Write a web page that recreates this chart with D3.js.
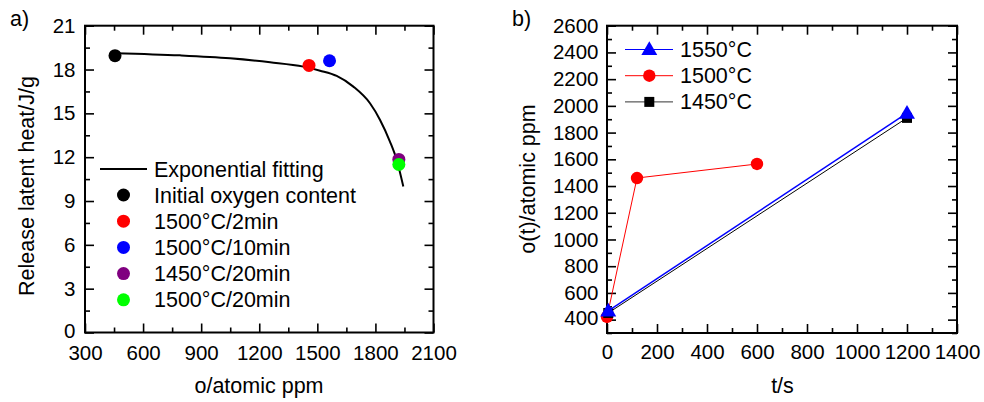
<!DOCTYPE html>
<html><head><meta charset="utf-8">
<script src="https://cdn.jsdelivr.net/npm/d3@7"></script>
<style>body{margin:0;background:#fff}svg{display:block}text{font-family:"Liberation Sans",Arial,sans-serif}</style>
</head><body>
<svg id="c" width="984" height="402"></svg>
<script>
// Panel a) data
const aXTicks = [300, 600, 900, 1200, 1500, 1800, 2100];
const aYTicks = [0, 3, 6, 9, 12, 15, 18, 21];
const fitX = [455, 790, 1049, 1256, 1428, 1514, 1600, 1686, 1772, 1824, 1875, 1910, 1944];
const fitY = [19.12, 18.97, 18.77, 18.5, 18.2, 17.92, 17.56, 16.83, 15.69, 14.55, 13.07, 11.81, 10.0];
const pointLabels = ["Initial oxygen content", "1500°C/2min", "1500°C/10min", "1450°C/20min", "1500°C/20min"];
const pointX = [455, 1457, 1563, 1921, 1921];
const pointY = [18.95, 18.28, 18.6, 11.85, 11.5];
const pointColors = ["#000000", "#ff0000", "#0000ff", "#800080", "#00ff00"];

// Panel b) data
const bXTicks = [0, 200, 400, 600, 800, 1000, 1200, 1400];
const bYTicks = [400, 600, 800, 1000, 1200, 1400, 1600, 1800, 2000, 2200, 2400, 2600];
const seriesNames = ["1550°C", "1500°C", "1450°C"];
const t1550 = [5, 1200], o1550 = [465, 1945];
const t1500 = [0, 120, 600], o1500 = [420, 1460, 1565];
const t1450 = [5, 1200], o1450 = [450, 1910];

const svg = d3.select("#c");
const TICKFONT = 20.5, LABFONT = 21.5;

function frame(x, y, xt, xMinor, yt, yMinor, padX, padY) {
  const [x0, x1] = x.range(), [y0, y1] = y.range();
  const g = svg.append("g");
  const mk = (axis, tr) => {
    const a = g.append("g").attr("transform", tr).call(axis);
    a.selectAll("text").attr("font-size", TICKFONT).attr("fill", "#000");
    a.selectAll("line").attr("stroke", "#000").attr("stroke-width", 1.6);
    a.select(".domain").remove();
    return a;
  };
  mk(d3.axisBottom(x).tickValues(xt).tickSize(-9).tickSizeOuter(0).tickPadding(padX).tickFormat(d3.format("d")), `translate(0,${y0})`);
  mk(d3.axisTop(x).tickValues(xt).tickSize(-9).tickSizeOuter(0).tickFormat(""), `translate(0,${y1})`);
  const left = mk(d3.axisLeft(y).tickValues(yt).tickSize(-9).tickSizeOuter(0).tickPadding(padY).tickFormat(d3.format("d")), `translate(${x0},0)`);
  // lift the lowest y label slightly so it clears the first x label
  left.selectAll(".tick text").filter((d, i) => i === 0).attr("dy", "0.22em");
  mk(d3.axisRight(y).tickValues(yt).tickSize(-9).tickSizeOuter(0).tickFormat(""), `translate(${x1},0)`);
  mk(d3.axisBottom(x).tickValues(xMinor).tickSize(-5).tickSizeOuter(0).tickFormat(""), `translate(0,${y0})`);
  mk(d3.axisTop(x).tickValues(xMinor).tickSize(-5).tickSizeOuter(0).tickFormat(""), `translate(0,${y1})`);
  mk(d3.axisLeft(y).tickValues(yMinor).tickSize(-5).tickSizeOuter(0).tickFormat(""), `translate(${x0},0)`);
  mk(d3.axisRight(y).tickValues(yMinor).tickSize(-5).tickSizeOuter(0).tickFormat(""), `translate(${x1},0)`);
  g.append("rect").attr("x", x0).attr("y", y1).attr("width", x1 - x0).attr("height", y0 - y1)
    .attr("fill", "none").attr("stroke", "#000").attr("stroke-width", 2);
}

// ---------- Panel a ----------
const xa = d3.scaleLinear().domain([300, 2100]).range([85, 433.5]);
const ya = d3.scaleLinear().domain([0, 21]).range([332.5, 25.7]);
const aXMinor = d3.range(450, 2100, 300);
const aYMinor = d3.range(1.5, 21, 3);
frame(xa, ya, aXTicks, aXMinor, aYTicks, aYMinor, 13, 9.5);

svg.append("path").datum(fitX.map((v, i) => [v, fitY[i]]))
  .attr("d", d3.line().x(d => xa(d[0])).y(d => ya(d[1])).curve(d3.curveMonotoneX))
  .attr("fill", "none").attr("stroke", "#000").attr("stroke-width", 2);

pointX.forEach((v, i) => {
  svg.append("circle").attr("cx", xa(v)).attr("cy", ya(pointY[i])).attr("r", 6.5).attr("fill", pointColors[i]);
});

const lgA = svg.append("g").attr("font-size", LABFONT);
lgA.append("line").attr("x1", 100).attr("x2", 147).attr("y1", 169).attr("y2", 169).attr("stroke", "#000").attr("stroke-width", 2);
lgA.append("text").attr("x", 154).attr("y", 169).attr("dy", "0.35em").text("Exponential fitting");
pointLabels.forEach((lab, i) => {
  const yy = 195 + i * 26.2;
  lgA.append("circle").attr("cx", 123.5).attr("cy", yy).attr("r", 6.5).attr("fill", pointColors[i]);
  lgA.append("text").attr("x", 154).attr("y", yy).attr("dy", "0.35em").text(lab);
});

svg.append("text").attr("x", 259).attr("y", 393).attr("text-anchor", "middle").attr("font-size", LABFONT).text("o/atomic ppm");
svg.append("text").attr("transform", "translate(34,186) rotate(-90)").attr("text-anchor", "middle").attr("font-size", LABFONT).text("Release latent heat/J/g");
svg.append("text").attr("x", 10).attr("y", 26).attr("font-size", LABFONT).text("a)");

// ---------- Panel b ----------
const xb = d3.scaleLinear().domain([0, 1400]).range([607, 957]);
const yb = d3.scaleLinear().domain([300, 2600]).range([333, 25.7]);
const bXMinor = d3.range(100, 1400, 200);
const bYMinor = d3.range(300, 2600, 200);
frame(xb, yb, bXTicks, bXMinor, bYTicks, bYMinor, 11.5, 8.5);

const lineB = d3.line().x(d => xb(d[0])).y(d => yb(d[1]));
const tri = d3.symbol().type(d3.symbolTriangle).size(110);
const sq = d3.symbol().type(d3.symbolSquare).size(100);

function series(ts, os, color, width, marker) {
  const data = ts.map((t, i) => [t, os[i]]);
  svg.append("path").datum(data).attr("d", lineB).attr("fill", "none").attr("stroke", color).attr("stroke-width", width);
  data.forEach(d => {
    if (marker === "circle") svg.append("circle").attr("cx", xb(d[0])).attr("cy", yb(d[1])).attr("r", 6.2).attr("fill", color);
    else svg.append("path").attr("d", marker === "tri" ? tri() : sq()).attr("transform", `translate(${xb(d[0])},${yb(d[1]) + (marker === "tri" ? 1 : 0)})`).attr("fill", color);
  });
}
series(t1500, o1500, "#ff0000", 1, "circle");
series(t1450, o1450, "#000000", 1, "sq");
series(t1550, o1550, "#0000ff", 1.5, "tri");

const lgB = svg.append("g").attr("font-size", LABFONT);
const legColors = ["#0000ff", "#ff0000", "#000000"];
const legMarks = ["tri", "circle", "sq"];
seriesNames.forEach((n, i) => {
  const yy = 49.5 + i * 26.2;
  lgB.append("line").attr("x1", 625).attr("x2", 673).attr("y1", yy).attr("y2", yy).attr("stroke", i === 2 ? "#333" : legColors[i]).attr("stroke-width", 1);
  if (legMarks[i] === "circle") lgB.append("circle").attr("cx", 649.3).attr("cy", yy).attr("r", 6.2).attr("fill", legColors[i]);
  else lgB.append("path").attr("d", legMarks[i] === "tri" ? tri() : sq()).attr("transform", `translate(649.3,${yy + (legMarks[i] === "tri" ? 1 : 0)})`).attr("fill", legColors[i]);
  lgB.append("text").attr("x", 680).attr("y", yy).attr("dy", "0.35em").text(n);
});

svg.append("text").attr("x", 782.5).attr("y", 393).attr("text-anchor", "middle").attr("font-size", LABFONT).text("t/s");
svg.append("text").attr("transform", "translate(535,179) rotate(-90)").attr("text-anchor", "middle").attr("font-size", LABFONT).text("o(t)/atomic ppm");
svg.append("text").attr("x", 512).attr("y", 26).attr("font-size", LABFONT).text("b)");
</script>
</body></html>
